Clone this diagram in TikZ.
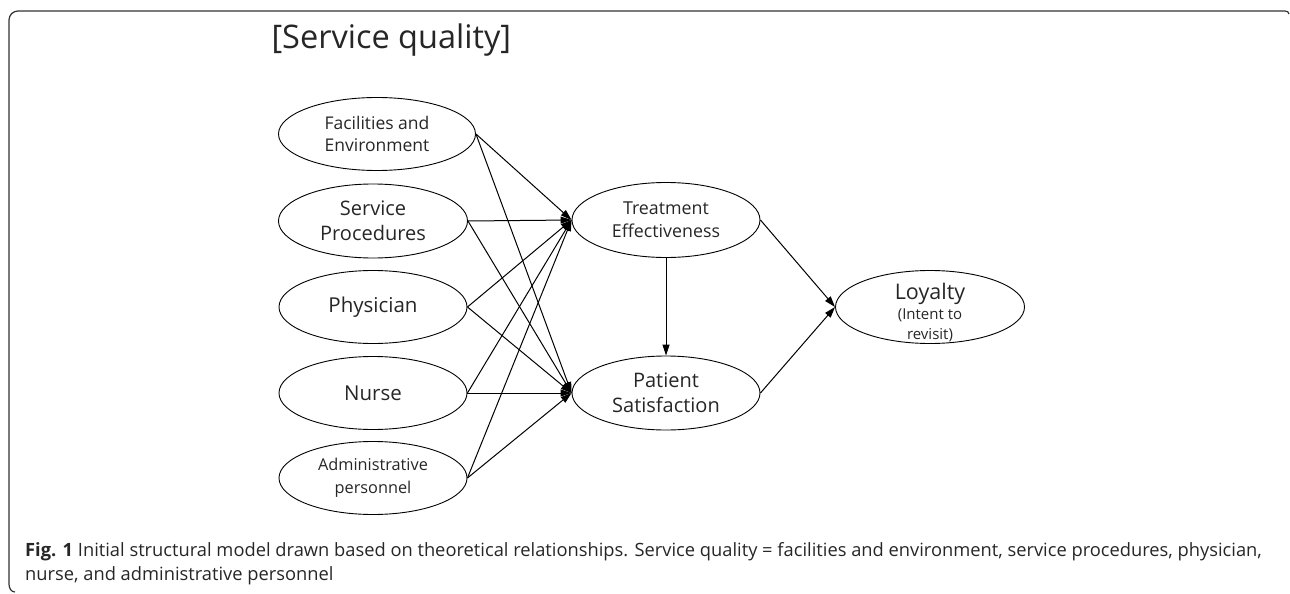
\documentclass[tikz,border=0pt]{standalone}
\usepackage{fontspec}
\setmainfont{Open Sans}
\usetikzlibrary{shapes.geometric,arrows.meta}
\begin{document}
\begin{tikzpicture}[x=1pt,y=-1pt,
  latent/.style={draw,ellipse,line width=0.9pt,inner sep=0pt,
    minimum width=188pt,minimum height=73pt,align=center,text=black!85},
  path/.style={line width=1pt,-{Triangle[length=11pt,width=7pt]}},
  frame/.style={line width=1.2pt,black!80},
  captext/.style={anchor=base west,font=\fontsize{18.3}{22}\selectfont,text=black!85,inner sep=0pt}]
\useasboundingbox (0,0) rectangle (1290,594);
% frame
\draw[frame] (1289,14) to[out=90,in=0] (1285,11) -- (18,11) to[out=180,in=90] (9,20) -- (9,584) to[out=-90,in=180] (15,592);
% title
\node[anchor=west,font=\fontsize{32.5}{36}\selectfont,text=black!85] (title) at (268,40) {[Service quality]};
% nodes
\node[latent,minimum width=197pt,font=\fontsize{17.5}{22.5}\selectfont] (fac) at (377,134) {Facilities and\\Environment};
\node[latent,minimum width=189pt,minimum height=74pt,font=\fontsize{20}{25}\selectfont] (sp) at (373,221) {Service\\Procedures};
\node[latent,font=\fontsize{20.5}{25}\selectfont] (phy) at (373,307) {Physician};
\node[latent,font=\fontsize{20.5}{25}\selectfont] (nur) at (373,393) {Nurse};
\node[latent,font=\fontsize{16.3}{23}\selectfont] (adm) at (373,478) {Administrative\\personnel};
\node[latent,minimum height=75pt,font=\fontsize{17.8}{23}\selectfont] (te) at (666,220) {Treatment\\Effectiveness};
\node[latent,minimum height=74pt,font=\fontsize{20}{25}\selectfont] (ps) at (666,393) {Patient\\Satisfaction};
\node[latent,minimum width=189pt,
  label={[align=center,yshift=-6pt,text=black!85,font=\fontsize{15}{18}\selectfont]center:{{\fontsize{21.5}{24}\selectfont Loyalty}\\[2pt](Intent to\\[2pt]revisit)}}] (loy) at (930,307) {};
% connectors
\foreach \s in {fac,sp,phy,nur,adm}{
  \draw[path] (\s.east) -- (te.west);
  \draw[path] (\s.east) -- (ps.west);
}
\draw[path] (te.south) -- (ps.north);
\draw[path] (te.east) -- (loy.west);
\draw[path] (ps.east) -- (loy.west);
% caption
\node[captext] (cap1) at (25,556) {\textbf{Fig. 1} Initial structural model drawn based on theoretical relationships. Service quality = facilities and environment, service procedures, physician,};
\node[captext] (cap2) at (25,580) {nurse, and administrative personnel};
\end{tikzpicture}
\end{document}
